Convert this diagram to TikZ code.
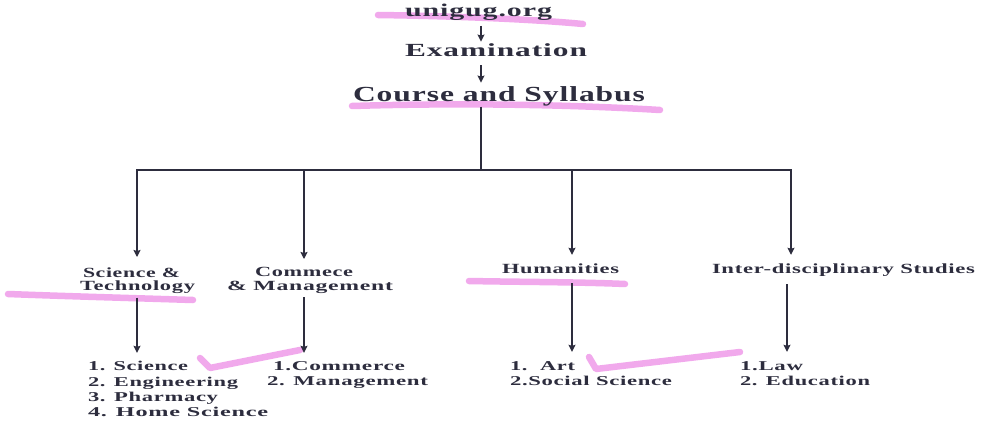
\documentclass[tikz,border=0pt]{standalone}
\usepackage{fontspec}
\usepackage{graphicx}
\setmainfont{Liberation Serif}
\newfontfamily\lsf[LetterSpace=3]{Liberation Serif}
\usetikzlibrary{arrows.meta}
\newcommand\fitw[2]{\resizebox{#1}{\height}{#2}}
\definecolor{ink}{RGB}{45,45,62}
\definecolor{hl}{RGB}{240,160,235}
\begin{document}
\begin{tikzpicture}[x=1pt,y=-1pt,
  txt/.style={inner sep=0pt, outer sep=0pt, text=ink},
  t1/.style={txt, font=\lsf\bfseries\fontsize{18}{18}\selectfont},
  t2/.style={txt, font=\lsf\bfseries\fontsize{18.5}{19}\selectfont},
  t3/.style={txt, font=\lsf\bfseries\fontsize{21.5}{22}\selectfont},
  t4/.style={txt, font=\lsf\bfseries\fontsize{14}{13.3}\selectfont},
  t5/.style={txt, font=\lsf\bfseries\fontsize{13.5}{15.3}\selectfont},
  ln/.style={draw=ink, line width=1.3pt},
  arr/.style={ln, -{Stealth[length=7pt,width=7pt,inset=1pt]}},
  hlmark/.style={draw=hl, line width=6.5pt, line cap=round, line join=round, opacity=0.9}]
\fill[white] (0,0) rectangle (992,425);
% highlighter marks
\draw[hlmark] (378,15) .. controls (450,16) and (530,19) .. (583,24);
\draw[hlmark] (352,106) .. controls (450,103) and (560,104) .. (660,110);
\draw[hlmark] (8,294) .. controls (60,296) and (130,298) .. (193,300);
\draw[hlmark] (469,281) .. controls (520,282) and (580,282) .. (625,284);
\draw[hlmark] (200,358) -- (210,368) -- (300,350);
\draw[hlmark] (589,357) -- (596,369) -- (740,352);
% texts
\node[t1, anchor=base west] (uni) at (405,17) {\fitw{147pt}{unigug.org}};
\node[t2, anchor=base west] (exam) at (405,57) {\fitw{182pt}{Examination}};
\node[t3, anchor=base west] (course) at (353,102) {\fitw{292pt}{Course and Syllabus}};
\node[t4, anchor=north west, align=left] (sci) at (80,267.5)
  {\hspace*{3pt}\fitw{97pt}{Science \&}\\\fitw{115pt}{Technology}};
\node[t4, anchor=north west, align=left] (com) at (227,267.5)
  {\hspace*{28pt}\fitw{98pt}{Commece}\\\fitw{166pt}{\& Management}};
\node[t4, anchor=base west] (hum) at (502,273) {\fitw{117pt}{Humanities}};
\node[t4, anchor=base west] (inter) at (712,273) {\fitw{263pt}{Inter-disciplinary Studies}};
\node[t5, anchor=north west, align=left] (l1) at (88,361.5)
  {\fitw{100pt}{1. Science}\\\fitw{150pt}{2. Engineering}\\\fitw{130pt}{3. Pharmacy}\\\fitw{180pt}{4. Home Science}};
\node[t5, anchor=north west, align=left] (l2) at (267,361.5)
  {\hspace*{6pt}\fitw{132pt}{1.Commerce}\\\fitw{161pt}{2. Management}};
\node[t5, anchor=north west, align=left] (l3) at (510,361.5)
  {\fitw{65pt}{1.\ \ Art}\\\fitw{162pt}{2.Social Science}};
\node[t5, anchor=north west, align=left] (l4) at (740,361.5)
  {\fitw{63pt}{1.Law}\\\fitw{130pt}{2. Education}};
% connectors
\coordinate (j) at (481,170);
\coordinate (b1) at (137,170);
\coordinate (b2) at (304,170);
\coordinate (b3) at (572,170);
\coordinate (b4) at (791,170);
\coordinate (b4l) at (787,170);
\draw[arr, shorten <=5pt, shorten >=2.6pt] (uni.south -| j) -- (exam.north -| j);
\draw[arr, shorten <=8pt, shorten >=4.5pt] (exam.south -| j) -- (course.north -| j);
\draw[ln] (course.south -| j) -- (j);
\draw[ln, line cap=rect] (b1) -- (b4);
\draw[arr, shorten >=10.5pt] (b1) -- (sci.north -| b1);
\draw[arr, shorten >=8.5pt] (b2) -- (com.north -| b2);
\draw[arr, shorten >=8.5pt] (b3) -- (hum.north -| b3);
\draw[arr, shorten >=8.5pt] (b4) -- (inter.north -| b4);
\draw[arr, shorten <=4pt, shorten >=8.7pt] (sci.south -| b1) -- (l1.north -| b1);
\draw[arr, shorten <=4pt, shorten >=8.7pt] (com.south -| b2) -- (l2.north -| b2);
\draw[arr, shorten <=10pt, shorten >=9.7pt] (hum.south -| b3) -- (l3.north -| b3);
\draw[arr, shorten <=8pt, shorten >=9.7pt] (inter.south -| b4l) -- (l4.north -| b4l);
\end{tikzpicture}
\end{document}
